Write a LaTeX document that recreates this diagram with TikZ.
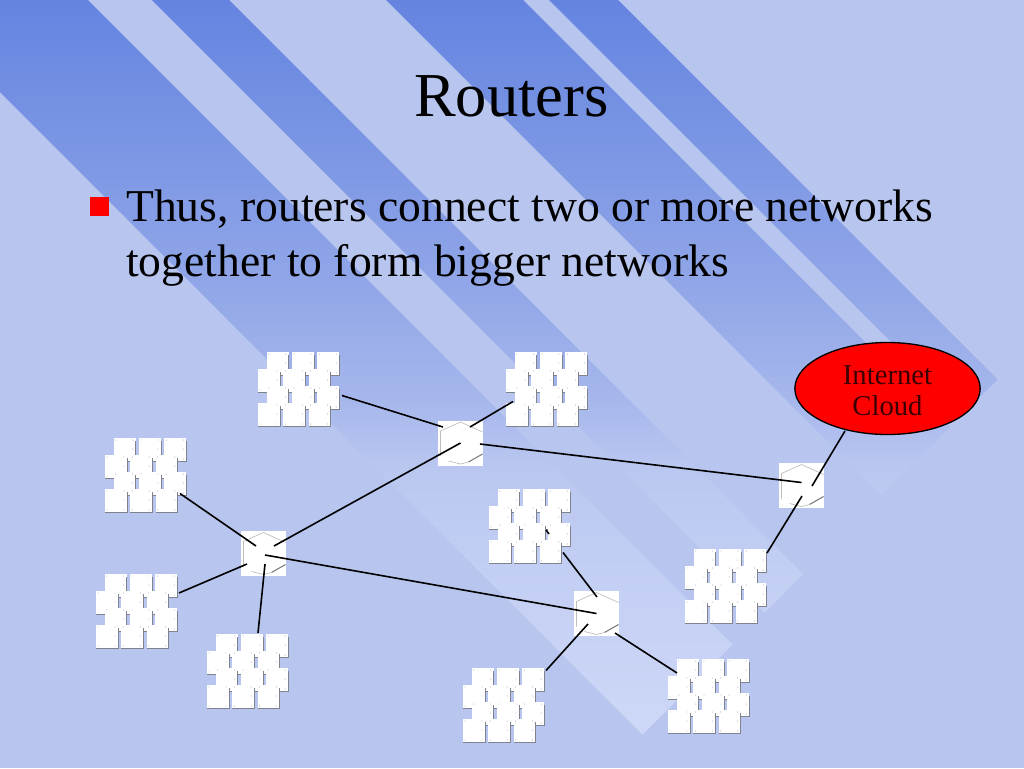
\documentclass[tikz,border=0pt]{standalone}
\usepackage{fontspec}
\setmainfont{Liberation Serif}
\usetikzlibrary{calc,shapes.geometric}
\definecolor{bgblue}{HTML}{B7C5EF}
\definecolor{bandA}{HTML}{6484E0}
\definecolor{bandB}{HTML}{93A8E8}
\definecolor{bandC}{HTML}{A6B7EC}
\definecolor{bandD}{HTML}{BAC7F0}
\definecolor{bandE}{HTML}{C5D0F4}
\definecolor{bandF}{HTML}{CED8F7}
\definecolor{pcedge}{HTML}{7E838E}
\definecolor{pcdot}{HTML}{C4C8D0}
\definecolor{hexedge}{HTML}{BDBDBD}
\definecolor{cloudtext}{HTML}{3A0000}
\pgfdeclareverticalshading{bandfade}{100bp}{
  color(0bp)=(bandF); color(25bp)=(bandF); color(34.46bp)=(bandE);
  color(43.24bp)=(bandD); color(47.97bp)=(bandC); color(54.73bp)=(bandB);
  color(75bp)=(bandA); color(100bp)=(bandA)}
\tikzset{
  lanbox/.style={rectangle,minimum width=61.5pt,minimum height=56pt,inner sep=0pt},
  routerbox/.style={rectangle,fill=white,minimum size=33.75pt,inner sep=0pt},
  link/.style={draw=black,line width=1.2pt},
  pcface/.style={fill=white},
  pcline/.style={draw=pcedge,line width=0.85pt},
  cloudshape/.style={ellipse,draw=black,fill=red,line width=1pt,minimum width=139pt,minimum height=69pt,inner sep=0pt},
  cloudlabel/.style={text=cloudtext,font=\fontsize{21.5}{23.4}\selectfont,align=center},
  heading/.style={font=\fontsize{46.9}{56}\selectfont,inner sep=0pt},
  bodytext/.style={font=\fontsize{34.2}{41.2}\selectfont,align=left,inner sep=0pt,anchor=north west},
  lan/.pic={
    \node[lanbox] (-box) at (41,37.5) {};
    \foreach \r/\yy/\xo in {0/0/8.7,1/17/0,2/34/8.7,3/51/0}{
      \foreach \c in {0,1,2}{
        \path[pcface] ({\xo+25.3*\c},\yy) rectangle ++(22,23.5);
        \path[pcline] ({\xo+25.3*\c+22.2},{\yy+3}) -- ++(0,20.8);
        \path[draw=pcedge,line width=0.6pt] ({\xo+25.3*\c},{\yy+23.8}) -- ++(22.4,0);
        \foreach \dx/\dy in {2/2,19/2,2/21,19/21,19/11}{
          \path[fill=pcdot] ({\xo+25.3*\c+\dx},{\yy+\dy}) circle[radius=0.7];
        }
      }
    }
  },
}
\begin{document}
\begin{tikzpicture}[x=0.75pt,y=-0.75pt]
\useasboundingbox (0,0) rectangle (1024,768);
\fill[bgblue] (0,0) rectangle (1024,768);
% diagonal bands, all cut by the line x+y=1377
\begin{scope}
  \clip (0,0) -- (88,0) -- (732.5,644.5) -- (642.5,734.5) -- (0,92) -- cycle
        (152,0) -- (229,0) -- (803,574) -- (764.5,612.5) -- cycle
        (386,0) -- (523,0) -- (950,427) -- (881.5,495.5) -- cycle
        (549,0) -- (618,0) -- (997.5,379.5) -- (963,414) -- cycle;
  \shade[shading=bandfade] (0,0) rectangle (1024,740);
\end{scope}
% title and text
\node[heading] (title) at (511.5,96) {Routers};
\fill[red] (90,197) rectangle (108.5,216);
\node[bodytext] (body) at (126,189.5) {Thus, routers connect two or more networks\\together to form bigger networks};
% networks
\pic (c1) at (258,352) {lan};
\pic (c2) at (506,352) {lan};
\pic (c3) at (105,438) {lan};
\pic (c4) at (96,574) {lan};
\pic (c5) at (207,634) {lan};
\pic (c6) at (489,489) {lan};
\pic (c7) at (463,668) {lan};
\pic (c8) at (668,659) {lan};
\pic (c9) at (685,549) {lan};
% routers
\foreach \n/\cx/\cy in {r1/460.5/443,r2/263.5/553.5,r3/596.5/613.5,r4/801.5/485.5}{
  \node[routerbox] (\n) at (\cx,\cy) {};
  \draw[hexedge,line width=0.5pt] ($(\n.center)+(-20,13)$) -- ++(0,-25) -- ++(20,-9) -- ++(22,10);
  \draw[hexedge!65!black,line width=0.8pt] ($(\n.center)+(22,11)$) -- ++(-14,8);
  \draw[hexedge,line width=0.5pt] ($(\n.center)+(8,19)$) -- ++(-8,2) -- ++(-12,-3);
}
% cloud
\node[cloudshape] (cloud) at (887.5,388.5) {};
\node[cloudlabel] (cloudtext) at (887.5,391) {Internet\\Cloud};
% connectors
\draw[link] ($(c1-box.center)+(43,6)$) -- ($(r1.center)+(-17.5,-16)$);
\draw[link] ($(c2-box.center)+(-34,12)$) -- ($(r1.center)+(9.5,-16)$);
\draw[link] (r1.center) -- ($(r2.center)+(10.5,-7.5)$);
\draw[link] ($(r1.center)+(19.5,1)$) -- ($(r4.center)+(0,-3)$);
\draw[link] ($(c3-box.center)+(34,18)$) -- ($(r2.center)+(-7.5,-7.5)$);
\draw[link] ($(c4-box.center)+(42,-18.5)$) -- ($(r2.center)+(-16.5,10.5)$);
\draw[link] ($(c5-box.center)+(10,-38.5)$) -- ($(r2.center)+(1.5,10.5)$);
\draw[link] ($(r2.center)+(1.5,1.5)$) -- (r3.center);
\draw[link] ($(c6-box.center)+(33,26)$) -- ($(r3.center)+(0.5,-16.5)$);
\draw[link] ($(c6-box.center)+(16,3.5)$) -- ++(3,4);
\draw[link] ($(c7-box.center)+(42,-35)$) -- ($(r3.center)+(-8.5,10.5)$);
\draw[link] ($(c8-box.center)+(-32,-23.5)$) -- ($(r3.center)+(18.5,19.5)$);
\draw[link] ($(c9-box.center)+(41,-33.5)$) -- ($(r4.center)+(0.5,10.5)$);
\draw[link] ($(r4.center)+(10.5,0.5)$) -- ($(cloud.center)+(-42.5,42.5)$);
\end{tikzpicture}
\end{document}
